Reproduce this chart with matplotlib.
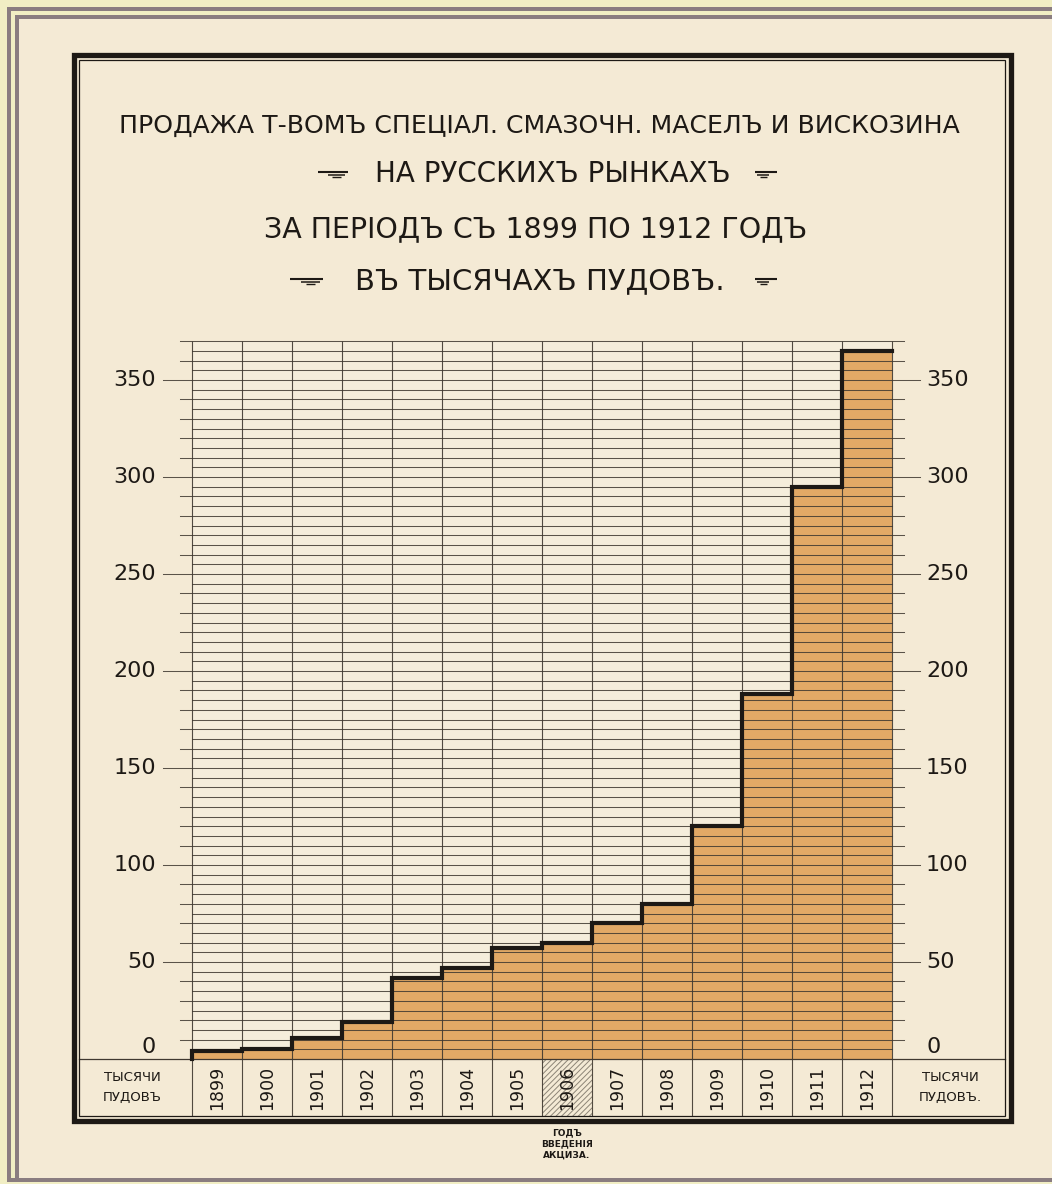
import numpy as np
import matplotlib
matplotlib.use("Agg")
import matplotlib.pyplot as plt
from matplotlib.patches import Rectangle
from matplotlib.lines import Line2D

W, H = 1052, 1184

# Sales, thousands of poods, by year
years = [1899, 1900, 1901, 1902, 1903, 1904, 1905,
         1906, 1907, 1908, 1909, 1910, 1911, 1912]
sales = [4, 5, 11, 19, 42, 47, 57, 60, 70, 80, 120, 188, 295, 365]
y_ticks = [0, 50, 100, 150, 200, 250, 300, 350]
excise_year = 1906

title_main = "ПРОДАЖА Т-ВОМЪ СПЕЦІАЛ. СМАЗОЧН. МАСЕЛЪ И ВИСКОЗИНА"
title_market = "НА РУССКИХЪ РЫНКАХЪ"
title_period = "ЗА ПЕРІОДЪ СЪ 1899 ПО 1912 ГОДЪ"
title_units = "ВЪ ТЫСЯЧАХЪ ПУДОВЪ."
unit_left = "ТЫСЯЧИ\nПУДОВЪ"
unit_right = "ТЫСЯЧИ\nПУДОВЪ."
excise_note = "ГОДЪ\nВВЕДЕНІЯ\nАКЦИЗА."

PAPER = "#f4ead5"
CHART_BG = "#f5eddb"
FILL = "#e2a966"
INK = "#1d1915"
GRID = "#3f3830"
BORDER_Y = "#f1eec4"
BORDER_M = "#8a7d80"

Y_TOP = 370
Y_TABLE = -29.4          # bottom of the year row, in data units
PX_PER_UNIT = (1059 - 380) / 350.0


def fx(px):
    return px / W


def fy(py):
    return 1 - py / H


def frect(x0, y0, x1, y1, z=-10, **kw):
    r = Rectangle((fx(x0), fy(y1)), fx(x1) - fx(x0), fy(y0) - fy(y1),
                  transform=fig.transFigure, zorder=z, **kw)
    fig.add_artist(r)


def ornament(xl, xr, yc, flip=False):
    # three stacked strokes: long on top, two short ones below
    w = xr - xl
    c = (xl + xr) / 2 + (w * 0.12 if not flip else -w * 0.12)
    for frac, dy, lw in ((1.0, -2.2, 1.5), (0.55, 0.8, 1.1), (0.3, 3.0, 1.0)):
        seg = w * frac
        a, b = (xl, xr) if frac == 1.0 else (c - seg / 2, c + seg / 2)
        fig.add_artist(Line2D([fx(a), fx(b)], [fy(yc + dy), fy(yc + dy)],
                              transform=fig.transFigure, color=INK, lw=lw,
                              solid_capstyle="butt", zorder=5))


fig = plt.figure(figsize=(W / 100, H / 100), dpi=100)
fig.patch.set_facecolor(BORDER_Y)

# mount border and paper
frect(6.7, 6.7, 1070, 1182, facecolor=BORDER_M, lw=0)
frect(10.7, 10.7, 1070, 1178, facecolor=BORDER_Y, lw=0)
frect(15, 15, 1070, 1178, facecolor=BORDER_M, lw=0)
frect(19.3, 19.3, 1070, 1177.7, facecolor=PAPER, lw=0)

# double frame
frect(73.5, 54.5, 1010.5, 1120.5, z=5, facecolor="none", edgecolor=INK,
      lw=3.8)
frect(79, 60, 1004.5, 1116, z=5, facecolor="none", edgecolor=INK, lw=0.9)

# title block
fig.text(fx(539), fy(126), title_main, ha="center", va="center",
         fontsize=18.1, color=INK)
fig.text(fx(553), fy(174), title_market, ha="center", va="center",
         fontsize=20, color=INK)
fig.text(fx(536), fy(229), title_period, ha="center", va="center",
         fontsize=20.5, color=INK)
fig.text(fx(540), fy(281), title_units, ha="center", va="center",
         fontsize=21, color=INK)
ornament(318, 348, 174)
ornament(755, 777, 174, flip=True)
ornament(290, 323, 281)
ornament(755, 777, 281, flip=True)

# chart axes: one column per year, 0..370 thousand poods
ax = fig.add_axes([fx(192), fy(1059), fx(892) - fx(192),
                   (Y_TOP * PX_PER_UNIT) / H])
n = len(years)
ax.set_xlim(0, n)
ax.set_ylim(0, Y_TOP)
ax.axis("off")

edges = np.arange(n + 1)
centers = edges[:-1] + 0.5

ax.add_patch(Rectangle((0, 0), n, Y_TOP, facecolor=CHART_BG, lw=0, zorder=0))
ax.bar(centers, sales, width=1.0, color=FILL, lw=0, zorder=1)

# horizontal rulings every 5; every 10 poke out, every 50 run to the labels
for v in range(5, Y_TOP + 1, 5):
    if v % 50 == 0:
        x0, x1 = -0.58, n + 0.56
    elif v % 10 == 0:
        x0, x1 = -0.24, n + 0.24
    else:
        x0, x1 = 0, n
    ax.plot([x0, x1], [v, v], color=GRID, lw=0.75, alpha=0.85, zorder=2,
            clip_on=False)

# column rulings continue through the year row
ax.vlines(edges, Y_TABLE, Y_TOP, color=GRID, lw=0.8, alpha=0.9, zorder=2,
          clip_on=False)
frame_l = (79 - 192) / 50.0
frame_r = (1004.5 - 192) / 50.0
ax.plot([frame_l, frame_r], [0, 0], color=GRID, lw=0.9, zorder=2,
        clip_on=False)

# step outline of the sales
step_x = np.concatenate([[0], np.repeat(edges, 2)[1:-1]])
step_y = np.concatenate([[0], np.repeat(sales, 2)])
ax.plot(step_x, step_y, color=INK, lw=3.0, zorder=4,
        solid_joinstyle="miter", clip_on=False)

# year row
ex = years.index(excise_year)
plt.rcParams["hatch.linewidth"] = 0.7
ax.add_patch(Rectangle((ex, Y_TABLE), 1, -Y_TABLE, facecolor="none",
                       edgecolor="#8c8476", hatch="//////", lw=0, zorder=1,
                       clip_on=False))
for c, yr in zip(centers, years):
    ax.text(c, Y_TABLE / 2, str(yr), rotation=90, ha="center", va="center",
            fontsize=12.5, color=INK, zorder=5)

ax.text((132 - 192) / 50.0, Y_TABLE / 2, unit_left, ha="center",
        va="center", fontsize=9.5, color=INK, linespacing=1.7)
ax.text((950 - 192) / 50.0, Y_TABLE / 2, unit_right, ha="center",
        va="center", fontsize=9.5, color=INK, linespacing=1.7)

# value labels on both sides
for v in y_ticks:
    yy = v if v else 6
    ax.text(-0.72, yy, str(v), ha="right", va="center", fontsize=16,
            color=INK)
    ax.text(n + 0.68, yy, str(v), ha="left", va="center", fontsize=16,
            color=INK)

ax.text(ex + 0.5, -(1144 - 1059) / PX_PER_UNIT, excise_note, ha="center",
        va="center", fontsize=6.5, fontweight="bold", color=INK,
        linespacing=1.35)

fig.savefig("out.png", dpi=100, facecolor=fig.get_facecolor())
